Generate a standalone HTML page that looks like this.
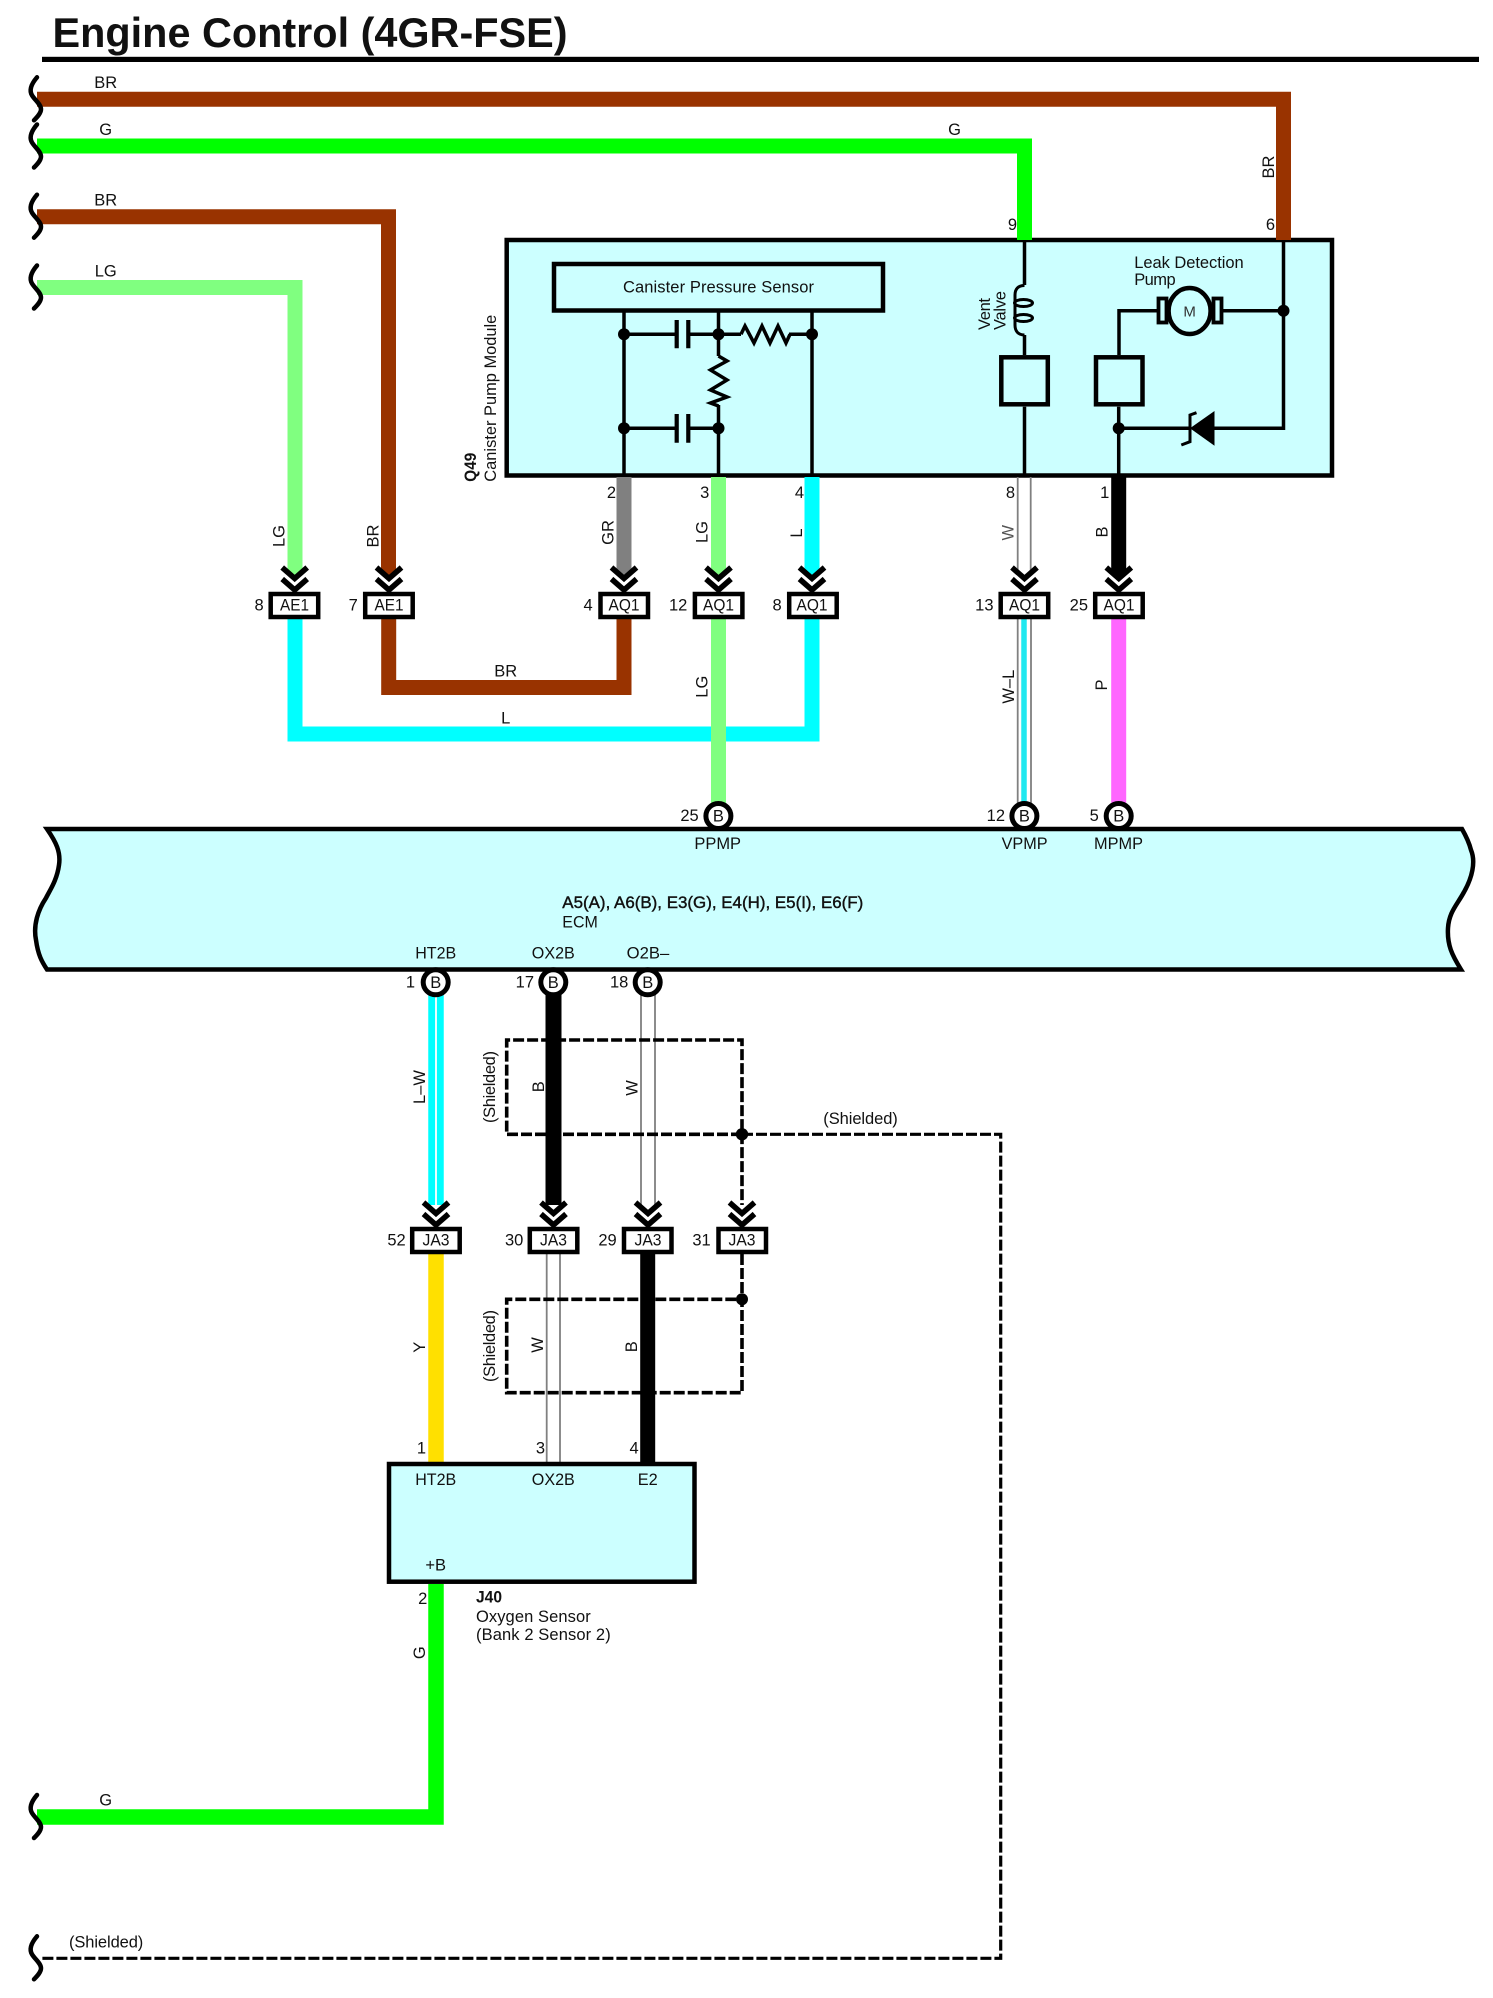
<!DOCTYPE html>
<html lang="en">
<head>
<meta charset="utf-8">
<title>Engine Control (4GR-FSE)</title>
<style>
html,body{margin:0;padding:0;background:#fff;width:1493px;height:1998px;overflow:hidden}
svg{display:block}
text{font-family:"Liberation Sans",Arial,sans-serif;font-size:16.5px;fill:#111}
.m{text-anchor:middle}
.e{text-anchor:end}
.b{font-weight:bold}
.w{fill:none;stroke-width:15;stroke-linejoin:miter}
.g{fill:none;stroke:#808080;stroke-width:1.8}
.k{fill:none;stroke:#000;stroke-width:3.5}
.d{fill:none;stroke:#000;stroke-width:3.6;stroke-dasharray:11 3}
.box{fill:#ccffff;stroke:#000;stroke-width:4.5}
.conn{fill:#fff;stroke:#000;stroke-width:4.5}
.pin{fill:#fff;stroke:#000;stroke-width:5}
.br{fill:none;stroke:#000;stroke-width:4.500;stroke-linecap:round}
</style>
</head>
<body>
<svg width="1493" height="1998" viewBox="0 0 1493 1998" xmlns="http://www.w3.org/2000/svg">
<defs>
<g id="chev"><path d="M-12.500 1.500L0 12.500L12.500 1.500M-12.500 13L0 24L12.500 13" fill="none" stroke="#000" stroke-width="5.500"/></g>
<path id="brace" d="M37-22C31-15 29-9 32-4C35 1 41 5 41 10C41 14 37 18 34 21" class="br"/>
</defs>

<rect width="1493" height="1998" fill="#fff"/>

<!-- title -->
<text x="52.500" y="47" class="b" style="font-size:41.500px" textLength="515" lengthAdjust="spacingAndGlyphs">Engine Control (4GR-FSE)</text>
<rect x="42" y="56.800" width="1437" height="5.200" fill="#000"/>

<!-- module -->
<rect x="506.700" y="240" width="825.300" height="235.500" class="box"/>
<rect x="554" y="264" width="329" height="46.500" class="box"/>

<!-- top wires -->
<path d="M37 99.300H1283.500V240" class="w" stroke="#993300"/>
<path d="M37 146H1024.500V240" class="w" stroke="#00ff00"/>
<path d="M37 216.700H388.500V575" class="w" stroke="#993300"/>
<path d="M37 287.500H295V575" class="w" stroke="#80ff80"/>

<!-- module-to-connector wires -->
<path d="M624 477V575" class="w" stroke="#808080"/>
<path d="M718.500 477V575" class="w" stroke="#80ff80"/>
<path d="M812 477V575" class="w" stroke="#00ffff"/>
<path d="M1017.700 477V575M1030.700 477V575" class="g"/>
<path d="M1118.700 477V575" class="w" stroke="#000"/>

<!-- connector-to-ECM wires -->
<path d="M624 619V687.500H388.700V619" class="w" stroke="#993300"/>
<path d="M295 619V734H812V619" class="w" stroke="#00ffff"/>
<path d="M718.500 619V805" class="w" stroke="#80ff80"/>
<path d="M1024 619V805" fill="none" stroke="#20e8f0" stroke-width="5.500"/>
<path d="M1017.700 619V805M1031 619V805" class="g"/>
<path d="M1118.700 619V805" class="w" stroke="#ff66ff"/>

<!-- ECM pins top -->
<circle cx="718.400" cy="816" r="12.500" class="pin"/>
<circle cx="1024.400" cy="816" r="12.500" class="pin"/>
<circle cx="1118.700" cy="816" r="12.500" class="pin"/>

<!-- below ECM wires -->
<path d="M436 995V1205" class="w" stroke="#00ffff" style="stroke-width:15.500"/>
<path d="M436 995V1205" fill="none" stroke="#e8ffff" stroke-width="2"/>
<path d="M553.500 995V1205" class="w" stroke="#000" style="stroke-width:16"/>
<path d="M641 995V1205M655 995V1205" class="g"/>
<path d="M436 1254V1464" class="w" stroke="#ffe000" style="stroke-width:15.500"/>
<path d="M546.700 1254V1464M560 1254V1464" class="g"/>
<path d="M647.700 1254V1464" class="w" stroke="#000"/>
<path d="M436 1584V1817H37" class="w" stroke="#00ff00" style="stroke-width:15.500"/>

<!-- shields -->
<path d="M742 1134.300H506.700V1040H742V1205" class="d"/>
<path d="M742 1134.300H1000.700V1958.300H40" class="d" style="stroke-width:3.200"/>
<path d="M742 1254V1392.700H506.700V1299.300H742" class="d"/>
<circle cx="742" cy="1134.300" r="6.200" fill="#000"/>
<circle cx="742" cy="1299.300" r="6" fill="#000"/>

<!-- braces -->
<use href="#brace" y="99.300"/>
<use href="#brace" y="146.500"/>
<use href="#brace" y="216.700"/>
<use href="#brace" y="287.500"/>
<use href="#brace" y="1817"/>
<use href="#brace" y="1958.300"/>

<!-- ECM -->
<path d="M47 829C56 842 61 852 59 865C57 880 50 890 46 898C38 910 33 925 36 940C38 955 42 962 47 969.500H1461C1452 955 1447 945 1448 928C1449 912 1457 905 1464 892C1472 878 1476 862 1471 850C1469 842 1466 836 1462 829Z" class="box"/>

<!-- ECM pins bottom -->
<circle cx="435.700" cy="982.300" r="12.500" class="pin"/>
<circle cx="553.300" cy="982.300" r="12.500" class="pin"/>
<circle cx="647.700" cy="982.300" r="12.500" class="pin"/>

<!-- J40 -->
<rect x="389" y="1464" width="305.500" height="117.700" class="box"/>

<!-- chevrons -->
<use href="#chev" x="294.700" y="566"/>
<use href="#chev" x="389" y="566"/>
<use href="#chev" x="624" y="566"/>
<use href="#chev" x="718.500" y="566"/>
<use href="#chev" x="812" y="566"/>
<use href="#chev" x="1024.500" y="566"/>
<use href="#chev" x="1118.800" y="566"/>
<use href="#chev" x="436" y="1201"/>
<use href="#chev" x="553.500" y="1201"/>
<use href="#chev" x="648" y="1201"/>
<use href="#chev" x="742" y="1201"/>

<!-- connector boxes -->
<rect x="270.700" y="594" width="47.500" height="23" class="conn"/>
<rect x="365.200" y="594" width="47.500" height="23" class="conn"/>
<rect x="600.500" y="594" width="47.500" height="23" class="conn"/>
<rect x="694.900" y="594" width="47.500" height="23" class="conn"/>
<rect x="789.200" y="594" width="47.500" height="23" class="conn"/>
<rect x="1000.700" y="594" width="47.500" height="23" class="conn"/>
<rect x="1095.200" y="594" width="47.500" height="23" class="conn"/>
<rect x="412.200" y="1229" width="47.500" height="23" class="conn"/>
<rect x="529.800" y="1229" width="47.500" height="23" class="conn"/>
<rect x="624" y="1229" width="47.500" height="23" class="conn"/>
<rect x="718.500" y="1229" width="47.500" height="23" class="conn"/>

<!-- module internals : pressure sensor -->
<path d="M624 310V475M718.500 310V356M718.500 405V475M812 310V475" class="k"/>
<path d="M624 334.300H675M690 334.300H718.500V334.300H741M789 334.300H812M624 428.300H675M690 428.300H718.500" class="k"/>
<path d="M676.700 320V348.300M688.300 320V348.300M676.700 414V442.700M688.300 414V442.700" fill="none" stroke="#000" stroke-width="4.200"/>
<path d="M741 334.300L745 326L754 343L762 326L770 343L778 326L786 343L790 334.300" class="k" stroke-linejoin="miter"/>
<path d="M718.500 356L727 361L710.500 370L727 380L710.500 390L727 397L710.500 403L718.500 406" class="k"/>
<circle cx="624" cy="334.300" r="6" fill="#000"/>
<circle cx="718.500" cy="334.300" r="6" fill="#000"/>
<circle cx="812" cy="334.300" r="6" fill="#000"/>
<circle cx="624" cy="428.300" r="6" fill="#000"/>
<circle cx="718.500" cy="428.300" r="6" fill="#000"/>

<!-- vent valve -->
<path d="M1024.500 240V285M1024.500 335V355M1024.500 406.700V475" class="k"/>
<path d="M1024.500 285.500C1018 285.500 1015 289 1015 295V325C1015 331 1018 335 1024.500 335" class="k" style="stroke-width:3"/>
<ellipse cx="1023.500" cy="303" rx="9" ry="3.500" fill="none" stroke="#000" stroke-width="3"/>
<ellipse cx="1023.500" cy="318" rx="9" ry="3.500" fill="none" stroke="#000" stroke-width="3"/>
<rect x="1001.300" y="357.300" width="46.500" height="47" fill="none" stroke="#000" stroke-width="4.500"/>
<rect x="1096" y="357.300" width="46.500" height="47" fill="none" stroke="#000" stroke-width="4.500"/>

<!-- leak pump -->
<path d="M1283.500 240V428.300H1214M1222 310.700H1283.500M1119 355V310.700H1157M1118.700 406.700V475M1118.700 428.300H1190" class="k"/>
<rect x="1158.500" y="298.500" width="8" height="24" fill="none" stroke="#000" stroke-width="3.800"/>
<rect x="1213.500" y="298.500" width="8" height="24" fill="none" stroke="#000" stroke-width="3.800"/>
<ellipse cx="1189.600" cy="311" rx="21" ry="23" fill="#ccffff" stroke="#000" stroke-width="4.500"/>
<text x="1189.600" y="316.500" class="m" style="font-size:15px;fill:#333">M</text>
<circle cx="1283.500" cy="310.700" r="6" fill="#000"/>
<circle cx="1118.700" cy="428.300" r="6" fill="#000"/>
<path d="M1214.500 411V445.700L1190 428.300Z" fill="#000"/>
<path d="M1196.500 412.700L1190 415V441.700L1181.300 445" fill="none" stroke="#000" stroke-width="3"/>

<!-- module labels -->
<text transform="translate(476,481.700) rotate(-90)" class="b" textLength="29" lengthAdjust="spacingAndGlyphs">Q49</text>
<text transform="translate(496,481.700) rotate(-90)" textLength="167" lengthAdjust="spacingAndGlyphs">Canister Pump Module</text>
<text x="623" y="292.700" textLength="191" lengthAdjust="spacing">Canister Pressure Sensor</text>
<text transform="translate(990,330) rotate(-90)" textLength="32" lengthAdjust="spacing">Vent</text>
<text transform="translate(1005.500,330) rotate(-90)" textLength="39" lengthAdjust="spacing">Valve</text>
<text x="1134.200" y="268" textLength="109.500" lengthAdjust="spacing">Leak Detection</text>
<text x="1134.200" y="285" textLength="41.500" lengthAdjust="spacing">Pump</text>

<!-- wire labels top -->
<text x="105.700" y="88" class="m">BR</text>
<text x="105.700" y="135" class="m">G</text>
<text x="954.500" y="135" class="m">G</text>
<text x="105.700" y="205.500" class="m">BR</text>
<text x="105.700" y="276.700" class="m">LG</text>
<text transform="translate(1274,167) rotate(-90)" class="m">BR</text>
<text x="1017" y="230" class="e">9</text>
<text x="1275" y="230" class="e">6</text>

<text x="616" y="498" class="e">2</text>
<text x="709.300" y="498" class="e">3</text>
<text x="804" y="498" class="e">4</text>
<text x="1015" y="498" class="e">8</text>
<text x="1109.300" y="498" class="e">1</text>

<text transform="translate(284.500,536) rotate(-90)" class="m">LG</text>
<text transform="translate(378.500,536) rotate(-90)" class="m">BR</text>
<text transform="translate(613.500,532.500) rotate(-90)" class="m">GR</text>
<text transform="translate(707.500,532) rotate(-90)" class="m">LG</text>
<text transform="translate(802,533) rotate(-90)" class="m">L</text>
<text transform="translate(1013.500,532.700) rotate(-90)" class="m" style="fill:#555">W</text>
<text transform="translate(1107.500,532) rotate(-90)" class="m">B</text>

<!-- connector labels -->
<text x="294.500" y="610.700" class="m" textLength="29" lengthAdjust="spacingAndGlyphs">AE1</text>
<text x="389" y="610.700" class="m" textLength="29" lengthAdjust="spacingAndGlyphs">AE1</text>
<text x="624" y="610.700" class="m" textLength="31" lengthAdjust="spacingAndGlyphs">AQ1</text>
<text x="718.500" y="610.700" class="m" textLength="31" lengthAdjust="spacingAndGlyphs">AQ1</text>
<text x="812" y="610.700" class="m" textLength="31" lengthAdjust="spacingAndGlyphs">AQ1</text>
<text x="1024.500" y="610.700" class="m" textLength="31" lengthAdjust="spacingAndGlyphs">AQ1</text>
<text x="1119" y="610.700" class="m" textLength="31" lengthAdjust="spacingAndGlyphs">AQ1</text>
<text x="263.700" y="610.700" class="e">8</text>
<text x="357.800" y="610.700" class="e">7</text>
<text x="592.700" y="610.700" class="e">4</text>
<text x="687.300" y="610.700" class="e">12</text>
<text x="781.700" y="610.700" class="e">8</text>
<text x="993.500" y="610.700" class="e">13</text>
<text x="1088" y="610.700" class="e">25</text>

<text x="505.700" y="676.700" class="m">BR</text>
<text x="505.700" y="723.300" class="m">L</text>
<text transform="translate(707.500,686.700) rotate(-90)" class="m">LG</text>
<text transform="translate(1014,686.700) rotate(-90)" class="m">W–L</text>
<text transform="translate(1107,685) rotate(-90)" class="m">P</text>

<!-- ECM labels -->
<text x="718.400" y="821.700" class="m">B</text>
<text x="1024.400" y="821.700" class="m">B</text>
<text x="1118.700" y="821.700" class="m">B</text>
<text x="698.700" y="821" class="e">25</text>
<text x="1005" y="821" class="e">12</text>
<text x="1098.800" y="821" class="e">5</text>
<text x="717.700" y="849" class="m" textLength="46.700" lengthAdjust="spacingAndGlyphs">PPMP</text>
<text x="1024.600" y="849" class="m" textLength="46" lengthAdjust="spacingAndGlyphs">VPMP</text>
<text x="1118.500" y="849" class="m" textLength="49" lengthAdjust="spacingAndGlyphs">MPMP</text>
<text x="562.300" y="908" textLength="301" lengthAdjust="spacingAndGlyphs" stroke="#111" stroke-width="0.400">A5(A), A6(B), E3(G), E4(H), E5(I), E6(F)</text>
<text x="562.300" y="927.700" textLength="35.500" lengthAdjust="spacingAndGlyphs">ECM</text>
<text x="435.700" y="958.300" class="m" textLength="41" lengthAdjust="spacingAndGlyphs">HT2B</text>
<text x="553.300" y="958.300" class="m" textLength="43" lengthAdjust="spacingAndGlyphs">OX2B</text>
<text x="648" y="958.300" class="m" textLength="42.600" lengthAdjust="spacingAndGlyphs">O2B–</text>
<text x="435.700" y="988" class="m">B</text>
<text x="553.300" y="988" class="m">B</text>
<text x="647.700" y="988" class="m">B</text>
<text x="415" y="987.700" class="e">1</text>
<text x="534" y="987.700" class="e">17</text>
<text x="628.300" y="987.700" class="e">18</text>

<!-- lower labels -->
<text transform="translate(425,1087) rotate(-90)" class="m">L–W</text>
<text transform="translate(495,1087) rotate(-90)" class="m" textLength="72" lengthAdjust="spacing">(Shielded)</text>
<text transform="translate(544,1086.700) rotate(-90)" class="m">B</text>
<text transform="translate(637.300,1088) rotate(-90)" class="m">W</text>
<text x="823.300" y="1124" textLength="74.500" lengthAdjust="spacing">(Shielded)</text>

<text x="436" y="1245.700" class="m" textLength="27" lengthAdjust="spacingAndGlyphs">JA3</text>
<text x="553.500" y="1245.700" class="m" textLength="27" lengthAdjust="spacingAndGlyphs">JA3</text>
<text x="648" y="1245.700" class="m" textLength="27" lengthAdjust="spacingAndGlyphs">JA3</text>
<text x="742" y="1245.700" class="m" textLength="27" lengthAdjust="spacingAndGlyphs">JA3</text>
<text x="405.700" y="1245.700" class="e">52</text>
<text x="523.300" y="1245.700" class="e">30</text>
<text x="616.700" y="1245.700" class="e">29</text>
<text x="710.700" y="1245.700" class="e">31</text>

<text transform="translate(425,1347.300) rotate(-90)" class="m">Y</text>
<text transform="translate(495,1346) rotate(-90)" class="m" textLength="72" lengthAdjust="spacing">(Shielded)</text>
<text transform="translate(543,1345) rotate(-90)" class="m">W</text>
<text transform="translate(637,1346.700) rotate(-90)" class="m">B</text>

<text x="426" y="1453.300" class="e">1</text>
<text x="545" y="1453.300" class="e">3</text>
<text x="638.700" y="1453.300" class="e">4</text>
<text x="435.700" y="1485" class="m" textLength="41" lengthAdjust="spacingAndGlyphs">HT2B</text>
<text x="553.300" y="1485" class="m" textLength="43" lengthAdjust="spacingAndGlyphs">OX2B</text>
<text x="647.700" y="1485" class="m" textLength="20" lengthAdjust="spacingAndGlyphs">E2</text>
<text x="435.700" y="1570.700" class="m">+B</text>
<text x="427.300" y="1604" class="e">2</text>
<text x="476" y="1602.700" class="b" textLength="26" lengthAdjust="spacingAndGlyphs">J40</text>
<text x="476" y="1622" textLength="114.700" lengthAdjust="spacing">Oxygen Sensor</text>
<text x="476" y="1640" textLength="134.700" lengthAdjust="spacing">(Bank 2 Sensor 2)</text>
<text transform="translate(425,1652.700) rotate(-90)" class="m">G</text>
<text x="105.700" y="1805.700" class="m">G</text>
<text x="69" y="1947.500" textLength="74.300" lengthAdjust="spacing">(Shielded)</text>
</svg>
</body>
</html>
